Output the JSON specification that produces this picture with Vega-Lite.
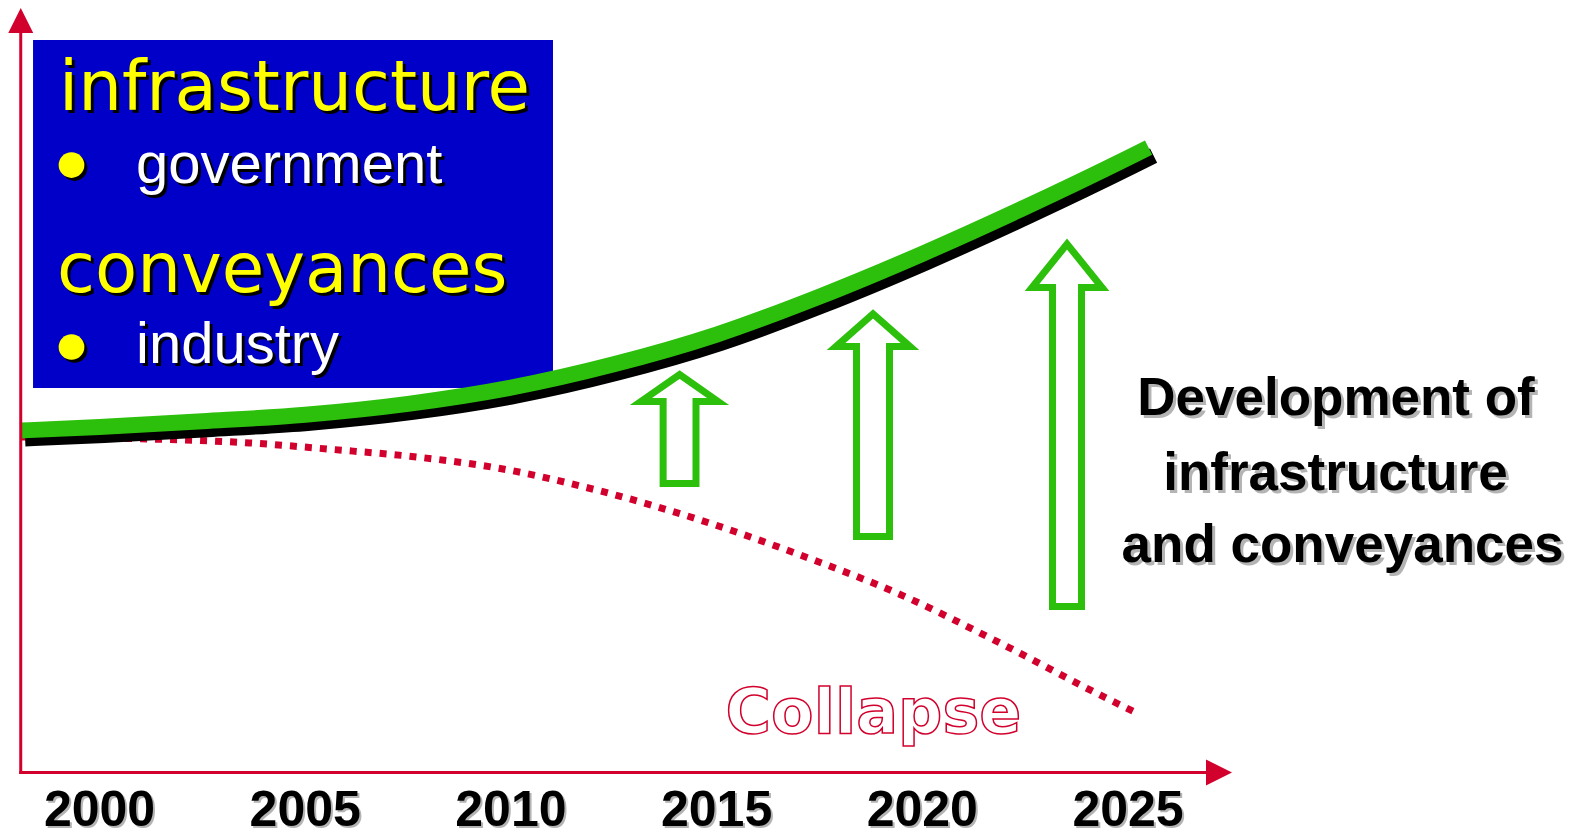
{
  "$schema": "https://vega.github.io/schema/vega-lite/v6.json",
  "width": 1580,
  "height": 839,
  "autosize": {"type": "none"},
  "padding": 0,
  "background": "white",
  "config": {"view": {"stroke": null}},
  "datasets": {
    "green": [
      {"year": 1998.07, "level": 45.0},
      {"year": 2000, "level": 45.46},
      {"year": 2002.5, "level": 46.21},
      {"year": 2005, "level": 47.08},
      {"year": 2007.5, "level": 48.51},
      {"year": 2010, "level": 50.64},
      {"year": 2012.5, "level": 53.71},
      {"year": 2015, "level": 57.62},
      {"year": 2017.5, "level": 62.62},
      {"year": 2020, "level": 68.25},
      {"year": 2022.5, "level": 74.37},
      {"year": 2025, "level": 80.87},
      {"year": 2025.5, "level": 82.22}
    ],
    "collapse": [
      {"year": 1998.07, "level": 44.14},
      {"year": 2000.01, "level": 44.01},
      {"year": 2001.64, "level": 43.82},
      {"year": 2003.66, "level": 43.36},
      {"year": 2005.68, "level": 42.5},
      {"year": 2007.72, "level": 41.51},
      {"year": 2009.74, "level": 40.0},
      {"year": 2012.17, "level": 37.04},
      {"year": 2014.6, "level": 33.22},
      {"year": 2017.03, "level": 28.62},
      {"year": 2019.46, "level": 23.43},
      {"year": 2021.89, "level": 17.04},
      {"year": 2024.32, "level": 10.2},
      {"year": 2025.29, "level": 7.63}
    ],
    "arrows": [
      {"arrow": 1, "idx": 0, "year": 2014.1, "level": 38.03},
      {"arrow": 1, "idx": 1, "year": 2013.7, "level": 38.03},
      {"arrow": 1, "idx": 2, "year": 2013.7, "level": 48.82},
      {"arrow": 1, "idx": 3, "year": 2013.162, "level": 48.82},
      {"arrow": 1, "idx": 4, "year": 2014.101, "level": 52.36},
      {"arrow": 1, "idx": 5, "year": 2015.034, "level": 48.82},
      {"arrow": 1, "idx": 6, "year": 2014.499, "level": 48.82},
      {"arrow": 1, "idx": 7, "year": 2014.499, "level": 38.03},
      {"arrow": 1, "idx": 8, "year": 2014.1, "level": 38.03},
      {"arrow": 2, "idx": 0, "year": 2018.8, "level": 31.05},
      {"arrow": 2, "idx": 1, "year": 2018.401, "level": 31.05},
      {"arrow": 2, "idx": 2, "year": 2018.401, "level": 56.05},
      {"arrow": 2, "idx": 3, "year": 2017.902, "level": 56.05},
      {"arrow": 2, "idx": 4, "year": 2018.802, "level": 60.33},
      {"arrow": 2, "idx": 5, "year": 2019.701, "level": 56.05},
      {"arrow": 2, "idx": 6, "year": 2019.203, "level": 56.05},
      {"arrow": 2, "idx": 7, "year": 2019.203, "level": 31.05},
      {"arrow": 2, "idx": 8, "year": 2018.8, "level": 31.05},
      {"arrow": 3, "idx": 0, "year": 2023.52, "level": 21.84},
      {"arrow": 3, "idx": 1, "year": 2023.165, "level": 21.84},
      {"arrow": 3, "idx": 2, "year": 2023.165, "level": 63.82},
      {"arrow": 3, "idx": 3, "year": 2022.667, "level": 63.82},
      {"arrow": 3, "idx": 4, "year": 2023.518, "level": 69.54},
      {"arrow": 3, "idx": 5, "year": 2024.369, "level": 63.82},
      {"arrow": 3, "idx": 6, "year": 2023.87, "level": 63.82},
      {"arrow": 3, "idx": 7, "year": 2023.87, "level": 21.84},
      {"arrow": 3, "idx": 8, "year": 2023.52, "level": 21.84}
    ],
    "heads": [
      {"year": 1999.016, "level": 87.17, "label": "infrastructure"},
      {"year": 1998.967, "level": 63.22, "label": "conveyances"}
    ],
    "items": [
      {"year": 2000.887, "level": 77.57, "label": "government"},
      {"year": 2000.887, "level": 53.88, "label": "industry"}
    ],
    "bullets": [
      {"year": 1999.319, "level": 79.93},
      {"year": 1999.319, "level": 55.99}
    ],
    "ticks": [
      {"year": 2000, "level": -7.04, "label": "2000"},
      {"year": 2005, "level": -7.04, "label": "2005"},
      {"year": 2010, "level": -7.04, "label": "2010"},
      {"year": 2015, "level": -7.04, "label": "2015"},
      {"year": 2020, "level": -7.04, "label": "2020"},
      {"year": 2025, "level": -7.04, "label": "2025"}
    ],
    "note": [
      {"year": 2030.056, "level": 47.04, "label": "Development of"},
      {"year": 2030.044, "level": 37.17, "label": "infrastructure"},
      {"year": 2030.214, "level": 27.74, "label": "and conveyances"}
    ]
  },
  "encoding": {
    "x": {"field": "year", "type": "quantitative", "scale": {"domain": [1997.581, 2035.987], "nice": false, "zero": false}, "axis": null},
    "y": {"field": "level", "type": "quantitative", "scale": {"domain": [-8.75, 101.645], "nice": false, "zero": false}, "axis": null}
  },
  "layer": [
    {
      "data": {"values": [{"year": 1998.384, "year2": 2011.023, "level": 96.38, "level2": 50.59}]},
      "mark": {"type": "rect", "color": "#0000c8"},
      "encoding": {"x2": {"field": "year2"}, "y2": {"field": "level2"}}
    },
    {
      "data": {"name": "heads"},
      "mark": {"type": "text", "font": "DejaVu Sans", "fontSize": 69, "align": "left", "baseline": "alphabetic", "color": "black", "dx": 3, "dy": 3},
      "encoding": {"text": {"field": "label"}}
    },
    {
      "data": {"name": "heads"},
      "mark": {"type": "text", "font": "DejaVu Sans", "fontSize": 69, "align": "left", "baseline": "alphabetic", "color": "#ffff00"},
      "encoding": {"text": {"field": "label"}}
    },
    {
      "data": {"name": "items"},
      "mark": {"type": "text", "font": "Liberation Sans", "fontSize": 58, "align": "left", "baseline": "alphabetic", "color": "black", "dx": 3, "dy": 3},
      "encoding": {"text": {"field": "label"}}
    },
    {
      "data": {"name": "items"},
      "mark": {"type": "text", "font": "Liberation Sans", "fontSize": 58, "align": "left", "baseline": "alphabetic", "color": "white"},
      "encoding": {"text": {"field": "label"}}
    },
    {
      "data": {"name": "bullets"},
      "mark": {"type": "point", "shape": "circle", "filled": true, "size": 660, "color": "black", "opacity": 1, "xOffset": 3, "yOffset": 3}
    },
    {
      "data": {"name": "bullets"},
      "mark": {"type": "point", "shape": "circle", "filled": true, "size": 660, "color": "#ffff00", "opacity": 1}
    },
    {
      "data": {"name": "collapse"},
      "mark": {"type": "line", "color": "#d2002c", "strokeWidth": 7, "strokeDash": [7, 8], "strokeCap": "butt", "interpolate": "monotone"}
    },
    {
      "data": {"name": "green"},
      "mark": {"type": "line", "color": "black", "strokeWidth": 16, "strokeCap": "butt", "interpolate": "monotone", "xOffset": 5, "yOffset": 8}
    },
    {
      "data": {"name": "green"},
      "mark": {"type": "line", "color": "#2cc00c", "strokeWidth": 16, "strokeCap": "butt", "interpolate": "monotone"}
    },
    {
      "data": {"name": "arrows"},
      "mark": {"type": "line", "color": "#2cc00c", "strokeWidth": 7, "strokeJoin": "miter", "strokeCap": "butt"},
      "encoding": {"detail": {"field": "arrow", "type": "nominal"}, "order": {"field": "idx", "type": "quantitative"}}
    },
    {
      "data": {"values": [{"year": 1998.085, "level": -0.2, "level2": 97.7}]},
      "mark": {"type": "rule", "color": "#d2002c", "strokeWidth": 3},
      "encoding": {"y2": {"field": "level2"}}
    },
    {
      "data": {"values": [{"year": 1998.05, "year2": 2026.944, "level": 0}]},
      "mark": {"type": "rule", "color": "#d2002c", "strokeWidth": 3},
      "encoding": {"x2": {"field": "year2"}}
    },
    {
      "data": {"values": [{"year": 1998.085, "level": 98.95}]},
      "mark": {"type": "point", "shape": "M0,-1L1,1L-1,1Z", "filled": true, "size": 625, "color": "#d2002c", "opacity": 1}
    },
    {
      "data": {"values": [{"year": 2027.212, "level": 0}]},
      "mark": {"type": "point", "shape": "M1,0L-1,-1L-1,1Z", "filled": true, "size": 676, "color": "#d2002c", "opacity": 1}
    },
    {
      "data": {"name": "ticks"},
      "mark": {"type": "text", "font": "Liberation Sans", "fontWeight": "bold", "fontSize": 50, "align": "center", "baseline": "alphabetic", "color": "#b4b4b4", "dx": 2, "dy": 2},
      "encoding": {"text": {"field": "label"}}
    },
    {
      "data": {"name": "ticks"},
      "mark": {"type": "text", "font": "Liberation Sans", "fontWeight": "bold", "fontSize": 50, "align": "center", "baseline": "alphabetic", "color": "black"},
      "encoding": {"text": {"field": "label"}}
    },
    {
      "data": {"name": "note"},
      "mark": {"type": "text", "font": "Liberation Sans", "fontWeight": "bold", "fontSize": 53, "align": "center", "baseline": "alphabetic", "color": "#b4b4b4", "dx": 3, "dy": 3},
      "encoding": {"text": {"field": "label"}}
    },
    {
      "data": {"name": "note"},
      "mark": {"type": "text", "font": "Liberation Sans", "fontWeight": "bold", "fontSize": 53, "align": "center", "baseline": "alphabetic", "color": "black"},
      "encoding": {"text": {"field": "label"}}
    },
    {
      "data": {"values": [{"year": 2018.814, "level": 5.2, "label": "Collapse"}]},
      "mark": {"type": "text", "font": "DejaVu Sans", "fontWeight": "bold", "fontSize": 62, "align": "center", "baseline": "alphabetic", "fill": "white", "stroke": "#d2002c", "strokeWidth": 1.5},
      "encoding": {"text": {"field": "label"}}
    }
  ]
}
